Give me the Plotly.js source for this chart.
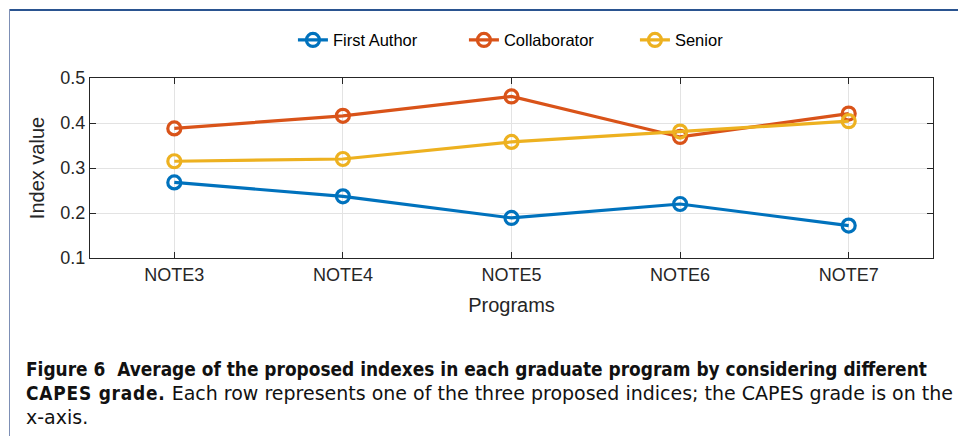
<!DOCTYPE html>
<html>
<head>
<meta charset="utf-8">
<script src="https://cdn.plot.ly/plotly-3.0.1.min.js"></script>
<style>
  html, body { margin: 0; padding: 0; background: #fff; }
  #wrap { position: relative; width: 958px; height: 436px; overflow: hidden; }
  #chart { position: absolute; left: 0; top: 0; width: 958px; height: 436px; }
  #btop { position: absolute; left: 9px; top: 9px; width: 949px; height: 2px; background: #2a5490; }
  #bleft { position: absolute; left: 9px; top: 9px; width: 1px; height: 427px; background: #7d8fb5; }
  #caption { position: absolute; left: 26px; top: 357px; width: 940px; white-space: nowrap;
    font-family: "DejaVu Sans", sans-serif; font-size: 19px; line-height: 24px; color: #111; }
  #caption b { font-family: "DejaVu Sans Condensed", "DejaVu Sans", sans-serif; font-weight: bold; font-size: 18.9px; }
  #caption b.l2 { letter-spacing: 0.8px; }
</style>
</head>
<body>
<div id="wrap">
  <div id="chart"></div>
  <div id="btop"></div>
  <div id="bleft"></div>
  <div id="caption"><b>Figure 6&nbsp; Average of the proposed indexes in each graduate program by considering different</b><br><b class="l2">CAPES grade.</b> Each row represents one of the three proposed indices; the CAPES grade is on the<br>x-axis.</div>
</div>
<script>
const categories = ["NOTE3", "NOTE4", "NOTE5", "NOTE6", "NOTE7"];
const seriesNames = ["First Author", "Collaborator", "Senior"];
const firstAuthor = [0.268, 0.237, 0.189, 0.220, 0.172];
const collaborator = [0.388, 0.416, 0.459, 0.369, 0.421];
const senior = [0.315, 0.320, 0.358, 0.381, 0.404];
const yTicks = [0.1, 0.2, 0.3, 0.4, 0.5];
const colors = ["#0072BD", "#D95319", "#EDB120"];

const values = [firstAuthor, collaborator, senior];
const traces = values.map((v, i) => ({
  type: "scatter",
  mode: "lines+markers",
  name: seriesNames[i],
  x: categories.map((c, k) => k),
  y: v,
  line: { color: colors[i], width: 3.2 },
  marker: { symbol: "circle-open", size: 13, color: colors[i], line: { width: 3.2, color: colors[i] } }
}));

const font = "Liberation Sans, Arial, sans-serif";
const layout = {
  width: 958, height: 436,
  margin: { l: 90, r: 25, t: 78, b: 178 },
  paper_bgcolor: "#ffffff", plot_bgcolor: "#ffffff",
  font: { family: font, size: 18, color: "#262626" },
  showlegend: true,
  legend: {
    orientation: "h", x: 0.545, xanchor: "center", y: 1.21, yanchor: "middle",
    font: { family: font, size: 16.5, color: "#000" },
    entrywidth: 126, entrywidthmode: "pixels", tracegroupgap: 0
  },
  xaxis: {
    range: [-0.5, 4.5],
    tickmode: "array",
    tickvals: categories.map((c, k) => k),
    ticktext: categories,
    showline: true, linecolor: "#262626", linewidth: 1, mirror: "ticks",
    ticks: "inside", ticklen: 6, tickcolor: "#262626",
    showgrid: true, gridcolor: "#e3e3e3", gridwidth: 1,
    zeroline: false,
    tickfont: { family: font, size: 18, color: "#262626" },
    title: { text: "Programs", font: { family: font, size: 20, color: "#262626" }, standoff: 14 }
  },
  yaxis: {
    range: [0.1, 0.5],
    tickmode: "array",
    tickvals: yTicks,
    ticktext: yTicks.map(t => t.toFixed(1)),
    showline: true, linecolor: "#262626", linewidth: 1, mirror: "ticks",
    ticks: "inside", ticklen: 6, tickcolor: "#262626",
    showgrid: true, gridcolor: "#e3e3e3", gridwidth: 1,
    zeroline: false,
    tickfont: { family: font, size: 18, color: "#262626" },
    title: { text: "Index value", font: { family: font, size: 20, color: "#262626" }, standoff: 10 }
  }
};

Plotly.newPlot("chart", traces, layout, { displayModeBar: false, staticPlot: true });
</script>
</body>
</html>
